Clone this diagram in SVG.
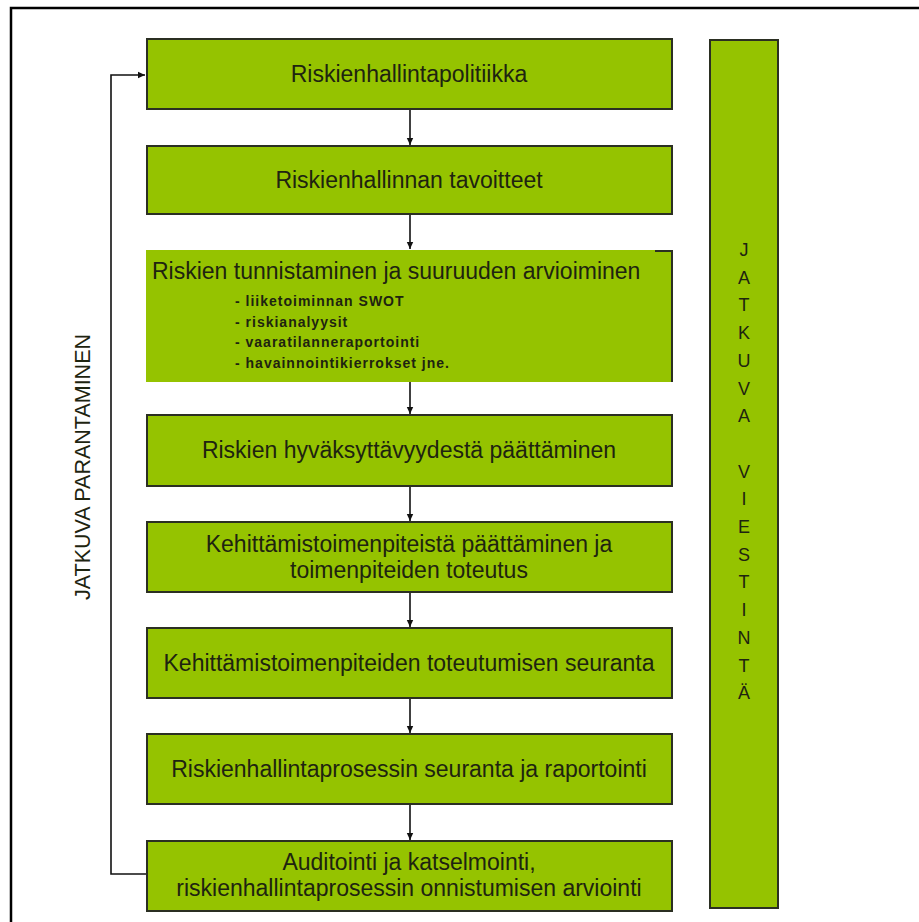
<svg xmlns="http://www.w3.org/2000/svg" width="919" height="922" viewBox="0 0 919 922">
<style>
.box{fill:#95c300;stroke:#2b2f22;stroke-width:2}
.t{font-family:"Liberation Sans",Arial,sans-serif;font-size:23px;fill:#1e2410;text-anchor:middle}
.b{font-family:"Liberation Sans",Arial,sans-serif;font-size:14px;font-weight:bold;fill:#1e2410;letter-spacing:1px}
.c{stroke:#111;stroke-width:1.6;fill:none}
</style>
<defs>
<marker id="ah" markerWidth="8" markerHeight="8" refX="7" refY="4" orient="auto" markerUnits="userSpaceOnUse">
<path d="M0,0.8 L7,4 L0,7.2 Z" fill="#111"/>
</marker>
</defs>
<rect x="0" y="0" width="919" height="922" fill="#fff"/>
<path d="M11,922 V8 H919" fill="none" stroke="#000" stroke-width="2.5"/>

<g id="connectors">
<line class="c" x1="410" y1="110" x2="410" y2="145" marker-end="url(#ah)"/>
<line class="c" x1="410" y1="215" x2="410" y2="249" marker-end="url(#ah)"/>
<line class="c" x1="410" y1="382" x2="410" y2="414" marker-end="url(#ah)"/>
<line class="c" x1="410" y1="487" x2="410" y2="521" marker-end="url(#ah)"/>
<line class="c" x1="410" y1="593" x2="410" y2="627" marker-end="url(#ah)"/>
<line class="c" x1="410" y1="699" x2="410" y2="733" marker-end="url(#ah)"/>
<line class="c" x1="410" y1="805" x2="410" y2="840" marker-end="url(#ah)"/>
<path class="c" d="M146,874 H111 V75 H145" marker-end="url(#ah)"/>
</g>

<g id="n1"><rect class="box" x="147" y="39" width="525" height="70"/><text class="t" x="409" y="82">Riskienhallintapolitiikka</text></g>
<g id="n2"><rect class="box" x="147" y="146" width="525" height="68"/><text class="t" x="409" y="188">Riskienhallinnan tavoitteet</text></g>
<g id="n3"><rect x="146" y="250" width="526" height="132" fill="#95c300"/><path d="M655,251 H672 V382" fill="none" stroke="#2b2f22" stroke-width="2"/>
<text class="t" x="152" y="279" style="text-anchor:start">Riskien tunnistaminen ja suuruuden arvioiminen</text>
<text class="b" x="235" y="306">- liiketoiminnan SWOT</text>
<text class="b" x="235" y="326.5">- riskianalyysit</text>
<text class="b" x="235" y="347">- vaaratilanneraportointi</text>
<text class="b" x="235" y="367.5">- havainnointikierrokset jne.</text>
</g>
<g id="n4"><rect class="box" x="147" y="415" width="525" height="71"/><text class="t" x="409" y="458">Riskien hyväksyttävyydestä päättäminen</text></g>
<g id="n5"><rect class="box" x="147" y="522" width="525" height="70"/><text class="t" x="409" y="552">Kehittämistoimenpiteistä päättäminen ja</text><text class="t" x="409" y="578">toimenpiteiden toteutus</text></g>
<g id="n6"><rect class="box" x="147" y="628" width="525" height="70"/><text class="t" x="409" y="671">Kehittämistoimenpiteiden toteutumisen seuranta</text></g>
<g id="n7"><rect class="box" x="147" y="734" width="525" height="70"/><text class="t" x="409" y="777">Riskienhallintaprosessin seuranta ja raportointi</text></g>
<g id="n8"><rect class="box" x="147" y="841" width="525" height="70"/><text class="t" x="409" y="870">Auditointi ja katselmointi,</text><text class="t" x="409" y="896">riskienhallintaprosessin onnistumisen arviointi</text></g>

<g id="n9"><rect class="box" x="710" y="40" width="68" height="868"/>
<text class="t" x="744" y="256" style="font-size:18px">
<tspan x="744" dy="0">J</tspan><tspan x="744" dy="27.7">A</tspan><tspan x="744" dy="27.7">T</tspan><tspan x="744" dy="27.7">K</tspan><tspan x="744" dy="27.7">U</tspan><tspan x="744" dy="27.7">V</tspan><tspan x="744" dy="27.7">A</tspan><tspan x="744" dy="55.4">V</tspan><tspan x="744" dy="27.7">I</tspan><tspan x="744" dy="27.7">E</tspan><tspan x="744" dy="27.7">S</tspan><tspan x="744" dy="27.7">T</tspan><tspan x="744" dy="27.7">I</tspan><tspan x="744" dy="27.7">N</tspan><tspan x="744" dy="27.7">T</tspan><tspan x="744" dy="27.7">Ä</tspan>
</text></g>

<g id="n10"><text class="t" x="0" y="0" style="font-size:21.5px" transform="translate(90,467) rotate(-90)">JATKUVA PARANTAMINEN</text></g>
</svg>
